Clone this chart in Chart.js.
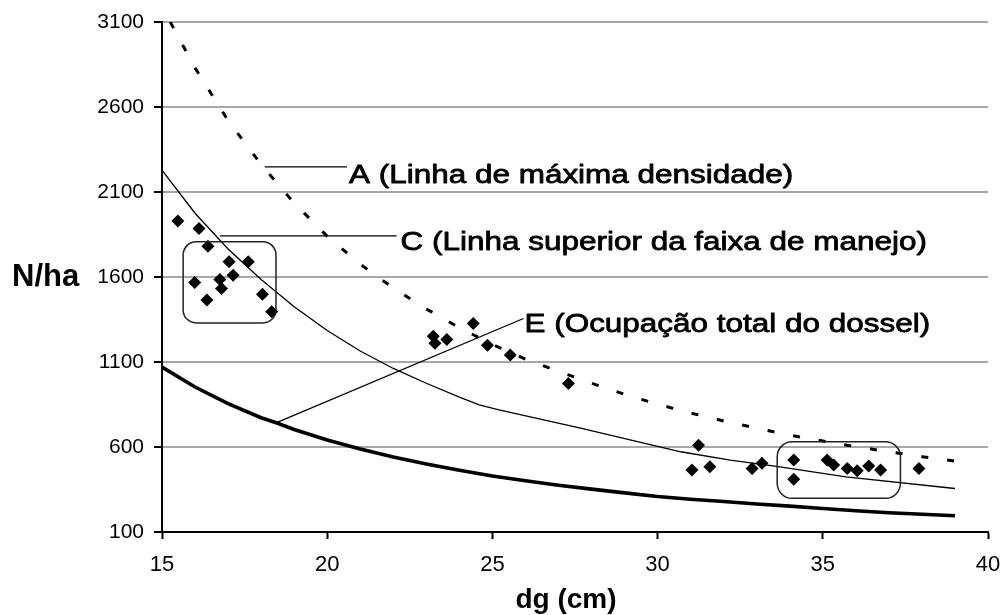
<!DOCTYPE html>
<html>
<head>
<meta charset="utf-8">
<script src="https://cdn.jsdelivr.net/npm/chart.js@4/dist/chart.umd.min.js"></script>
<style>
  html, body { margin: 0; padding: 0; background: #fff; }
  #wrap { width: 1003px; height: 615px; }
</style>
</head>
<body>
<div id="wrap"><canvas id="c" width="1003" height="615"></canvas></div>
<script>
// Axis ticks
const xTicks = [15, 20, 25, 30, 35, 40];
const yTicks = [100, 600, 1100, 1600, 2100, 2600, 3100];

// A - maximum density line (dg in cm, N/ha)
const dgA = [15.25, 16, 17, 18, 19, 20, 21, 22, 23, 24, 25, 26, 27, 28, 29, 30, 31, 32, 33, 34, 35, 36, 37, 38, 39];
const nA  = [3100, 2830, 2520, 2262, 2035, 1840, 1675, 1535, 1412, 1302, 1203, 1117, 1045, 975, 910, 852, 800, 753, 710, 670, 635, 602, 572, 543, 517];

// C - upper limit of the management zone
const dgC = [15, 16, 17, 18, 19, 20, 21, 22, 23, 24, 24.6, 25.2, 27.7, 30.7, 32.2, 33.6, 35.7, 39];
const nC  = [2228, 1975, 1765, 1585, 1425, 1285, 1165, 1062, 975, 893, 848, 818, 710, 572, 523, 486, 424, 356];

// Lower line (total canopy occupation)
const dgE = [15, 16, 17, 18, 18.5, 19, 20, 21, 22, 23, 24, 25, 26, 27, 28, 29, 30, 31, 32, 33, 34, 35, 36, 37, 38, 39];
const nE  = [1070, 953, 855, 772, 740, 703, 641, 588, 541, 500, 463, 430, 401, 375, 352, 330, 309, 293, 279, 265, 252, 238, 225, 213, 204, 196];

// Observed plots
const dgObs = [15.48, 16.12, 16.39, 17.03, 17.61, 15.99, 16.75, 17.15, 16.8, 16.36, 18.04, 18.32,
               23.21, 23.26, 23.62, 24.42, 24.85, 25.54, 27.3,
               31.24, 31.04, 31.58, 32.86, 33.16, 34.12, 34.12, 35.13, 35.33, 35.74, 36.04, 36.39, 36.75, 37.91];
const nObs  = [1930, 1885, 1781, 1689, 1689, 1568, 1586, 1611, 1533, 1464, 1499, 1395,
               1252, 1211, 1233, 1327, 1199, 1141, 974,
               611, 465, 484, 474, 504, 523, 410, 523, 494, 474, 460, 488, 465, 474];

// Text
const labelA = 'A (Linha de máxima densidade)';
const labelC = 'C (Linha superior da faixa de manejo)';
const labelE = 'E (Ocupação total do dossel)';
const xTitle = 'dg (cm)';
const yTitle = 'N/ha';

const pts = (xs, ys) => xs.map((v, i) => ({ x: v, y: ys[i] }));
const FONT = '"Liberation Sans", Arial, sans-serif';

// Callouts (data coordinates) and rounded group boxes
const callouts = [
  { text: labelA, from: [18.11, 2248], to: [20.6, 2248], dx: 2, dy: 16.5 },
  { text: labelC, from: [16.75, 1842], to: [22.1, 1842], dx: 4, dy: 14.5 },
  { text: labelE, from: [18.45, 742], to: [25.94, 1356], dx: 1, dy: 13.5 }
];
const groups = [
  { dg: [15.64, 18.45], n: [1330, 1807], r: 13 },
  { dg: [33.62, 37.35], n: [298, 631], r: 15 }
];

function roundRectPath(ctx, x0, y0, x1, y1, r) {
  ctx.beginPath();
  ctx.moveTo(x0 + r, y0);
  ctx.lineTo(x1 - r, y0);
  ctx.arcTo(x1, y0, x1, y0 + r, r);
  ctx.lineTo(x1, y1 - r);
  ctx.arcTo(x1, y1, x1 - r, y1, r);
  ctx.lineTo(x0 + r, y1);
  ctx.arcTo(x0, y1, x0, y1 - r, r);
  ctx.lineTo(x0, y0 + r);
  ctx.arcTo(x0, y0, x0 + r, y0, r);
  ctx.closePath();
}

const overlay = {
  id: 'overlay',
  afterDatasetsDraw(chart) {
    const { ctx } = chart;
    const sx = chart.scales.x, sy = chart.scales.y;
    ctx.save();
    // rounded boxes around the two plot groups
    ctx.strokeStyle = '#222';
    ctx.lineWidth = 1.5;
    groups.forEach(g => {
      const x0 = sx.getPixelForValue(g.dg[0]), x1 = sx.getPixelForValue(g.dg[1]);
      const y0 = sy.getPixelForValue(g.n[1]), y1 = sy.getPixelForValue(g.n[0]);
      roundRectPath(ctx, x0, y0, x1, y1, g.r);
      ctx.stroke();
    });
    // leader lines and their labels
    callouts.forEach(c => {
      const ax = sx.getPixelForValue(c.from[0]), ay = sy.getPixelForValue(c.from[1]);
      const bx = sx.getPixelForValue(c.to[0]), by = sy.getPixelForValue(c.to[1]);
      ctx.strokeStyle = '#000';
      ctx.lineWidth = 1.3;
      ctx.beginPath();
      ctx.moveTo(ax, ay);
      ctx.lineTo(bx, by);
      ctx.stroke();
      ctx.save();
      ctx.translate(bx + c.dx, by + c.dy);
      ctx.scale(1.21, 1);
      ctx.font = '26px ' + FONT;
      ctx.fillStyle = '#000';
      ctx.strokeStyle = '#000';
      ctx.lineWidth = 0.8;
      ctx.lineJoin = 'round';
      ctx.textAlign = 'left';
      ctx.textBaseline = 'alphabetic';
      ctx.fillText(c.text, 0, 0);
      ctx.strokeText(c.text, 0, 0);
      ctx.restore();
    });
    ctx.restore();
  },
  afterDraw(chart) {
    const { ctx } = chart;
    ctx.save();
    ctx.fillStyle = '#000';
    ctx.textBaseline = 'alphabetic';
    ctx.font = 'bold 31px ' + FONT;
    ctx.textAlign = 'left';
    ctx.fillText(yTitle, 12, 286);
    ctx.font = 'bold 28px ' + FONT;
    ctx.textAlign = 'center';
    ctx.fillText(xTitle, 566, 608);
    ctx.restore();
  }
};

new Chart(document.getElementById('c'), {
  type: 'scatter',
  data: {
    datasets: [
      { type: 'scatter', data: pts(dgObs, nObs), pointStyle: 'rectRot', pointRadius: 6.5,
        backgroundColor: '#000', borderColor: '#000', borderWidth: 0 },
      { type: 'line', data: pts(dgA, nA), borderColor: '#000', borderWidth: 3,
        borderDash: [7, 19], pointRadius: 0, tension: 0, fill: false },
      { type: 'line', data: pts(dgC, nC), borderColor: '#000', borderWidth: 1.3,
        pointRadius: 0, tension: 0, fill: false },
      { type: 'line', data: pts(dgE, nE), borderColor: '#000', borderWidth: 3.6,
        pointRadius: 0, tension: 0, fill: false }
    ]
  },
  options: {
    responsive: false,
    animation: false,
    devicePixelRatio: 1,
    layout: { autoPadding: false, padding: { left: 0, top: 22, right: 15, bottom: 0 } },
    plugins: { legend: { display: false }, tooltip: { enabled: false }, title: { display: false } },
    scales: {
      x: {
        type: 'linear', min: 15, max: 40,
        afterBuildTicks: s => { s.ticks = xTicks.map(v => ({ value: v })); },
        afterFit: s => { s.height = 83; s.paddingLeft = 0; s.paddingRight = 0; },
        grid: { drawOnChartArea: false, drawTicks: true, tickLength: 7, tickColor: '#000', tickWidth: 2 },
        border: { display: true, color: '#000', width: 2 },
        ticks: { color: '#000', font: { family: FONT, size: 22 }, padding: 13, maxRotation: 0,
                 autoSkip: false, callback: v => String(v) }
      },
      y: {
        type: 'linear', min: 100, max: 3100,
        afterBuildTicks: s => { s.ticks = yTicks.map(v => ({ value: v })); },
        afterFit: s => { s.width = 162; s.paddingTop = 0; s.paddingBottom = 0; },
        grid: {
          color: c => (c.tick && c.tick.value === 100) ? 'rgba(0,0,0,0)' : '#a8a8a8',
          lineWidth: 2, drawTicks: true, tickLength: 8, tickColor: '#000', tickWidth: 2
        },
        border: { display: true, color: '#000', width: 2 },
        ticks: { color: '#000', font: { family: FONT, size: 21 }, padding: 10, autoSkip: false,
                 callback: v => String(v) }
      }
    }
  },
  plugins: [overlay]
});
</script>
</body>
</html>
